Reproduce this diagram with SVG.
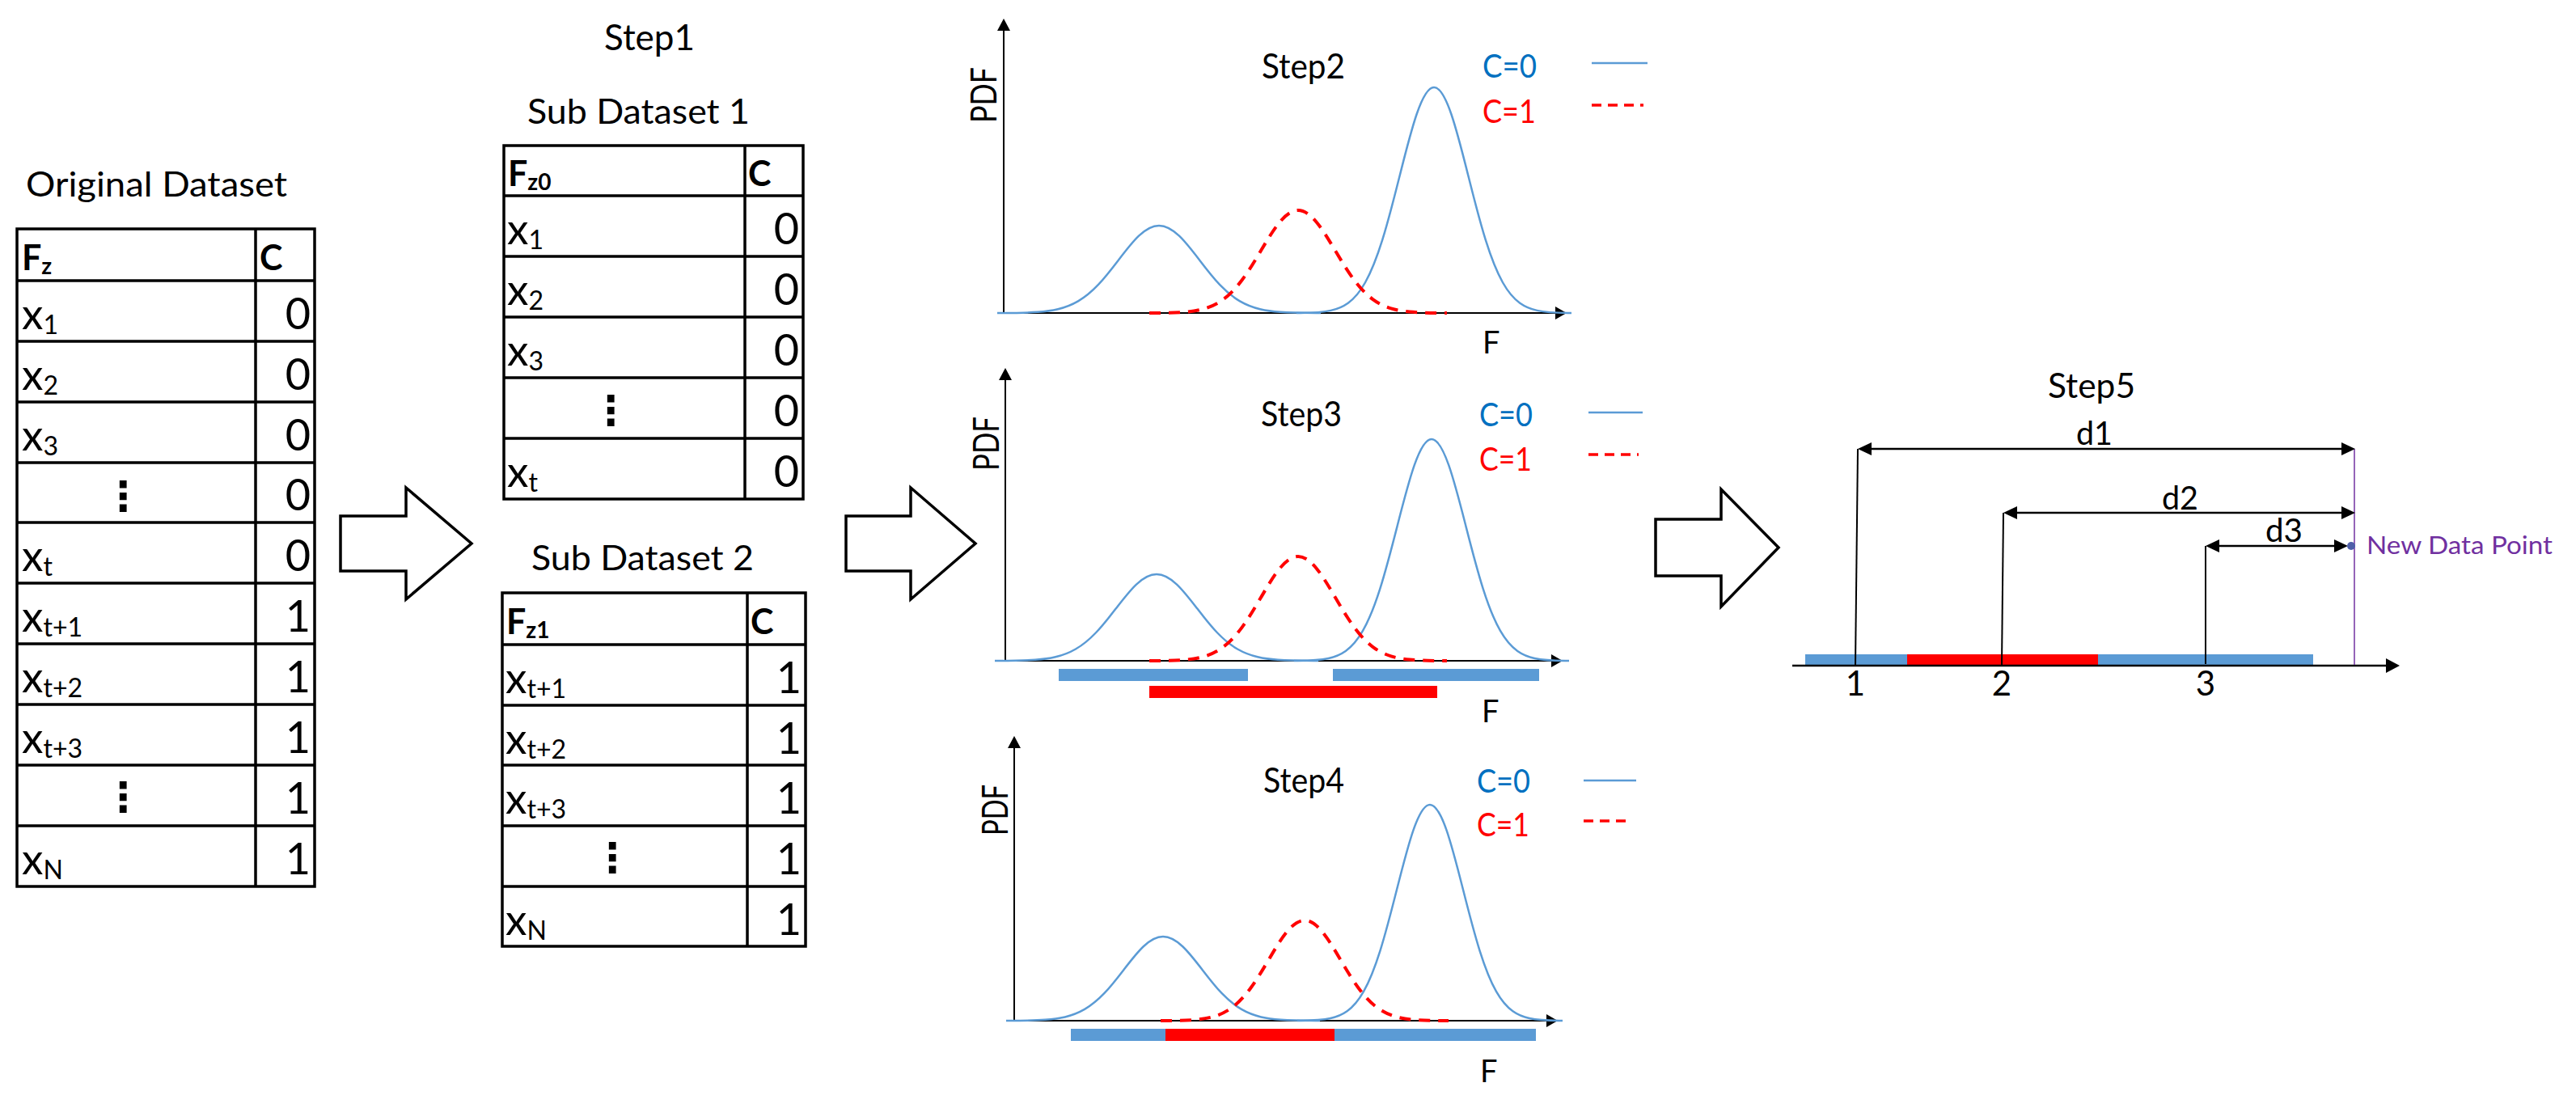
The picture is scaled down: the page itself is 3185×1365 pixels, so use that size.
<svg xmlns="http://www.w3.org/2000/svg" xmlns:xlink="http://www.w3.org/1999/xlink" width="3185" height="1365" viewBox="0 0 3185 1365">
<style>
.t{font-family:Lato,"Open Sans","Liberation Sans",sans-serif;fill:#000}
.b{font-weight:bold}
.grid{stroke:#000;stroke-width:3.5;fill:none}
.gl{stroke:#000;stroke-width:3.5}
.row{font-size:53px}
.sub{font-size:32px}
.val{font-size:54px;text-anchor:end}
.hd{font-size:43px;font-weight:bold}
.hs{font-size:28px}
.dots{font-family:"DejaVu Sans",sans-serif;font-weight:bold;font-size:50px;text-anchor:middle}
.title{font-size:43px}
.blue{stroke:#5B9BD5;stroke-width:2.5;fill:none}
.red{stroke:#FF0000;stroke-width:4;fill:none;stroke-dasharray:14 10}
.lgr{stroke:#FF0000;stroke-width:3.5;fill:none;stroke-dasharray:12 8}
.axis{stroke:#000;stroke-width:2;fill:none}
.c0{fill:#0070C0;font-size:40px}
.c1{fill:#FF0000;font-size:40px}
.lab{font-size:42px}
.blk{fill:#fff;stroke:#000;stroke-width:3.5;stroke-linejoin:miter}
.dim{stroke:#000;stroke-width:2.5;fill:none}
.bbar{fill:#5B9BD5}
.rbar{fill:#FF0000}
</style>
<defs>
<path id="bell" vector-effect="non-scaling-stroke" d="M-4,0 C-3.6667,-0.0007 -3.3333,0 -3,-0.0111 C-2.8333,-0.0167 -2.6667,-0.0256 -2.5,-0.0439 C-2.3333,-0.0622 -2.1667,-0.0902 -2,-0.1353 C-1.8333,-0.1804 -1.6667,-0.2435 -1.5,-0.3247 C-1.3333,-0.4059 -1.1667,-0.5054 -1,-0.6065 C-0.8333,-0.7076 -0.6667,-0.809 -0.5,-0.8825 C-0.3333,-0.956 -0.1667,-1 0,-1 C0.1667,-1 0.3333,-0.956 0.5,-0.8825 C0.6667,-0.809 0.8333,-0.7076 1,-0.6065 C1.1667,-0.5054 1.3333,-0.4059 1.5,-0.3247 C1.6667,-0.2435 1.8333,-0.1804 2,-0.1353 C2.1667,-0.0902 2.3333,-0.0622 2.5,-0.0439 C2.6667,-0.0256 2.8333,-0.0167 3,-0.0111 C3.3333,0 3.6667,-0.0007 4,0"/>
</defs>

<!-- Original Dataset -->
<g id="original-dataset">
<text class="t title" x="32" y="243" textLength="323" lengthAdjust="spacingAndGlyphs">Original Dataset</text>
<rect class="grid" x="21" y="283" width="368" height="813"/>
<line class="gl" x1="316" y1="283" x2="316" y2="1096"/>
<g class="gl">
<line x1="21" y1="347" x2="389" y2="347"/><line x1="21" y1="422" x2="389" y2="422"/><line x1="21" y1="497" x2="389" y2="497"/><line x1="21" y1="572" x2="389" y2="572"/><line x1="21" y1="646" x2="389" y2="646"/><line x1="21" y1="721" x2="389" y2="721"/><line x1="21" y1="796" x2="389" y2="796"/><line x1="21" y1="871" x2="389" y2="871"/><line x1="21" y1="946" x2="389" y2="946"/><line x1="21" y1="1021" x2="389" y2="1021"/>
</g>
<text class="t hd" x="27" y="334">F<tspan class="hs" dy="5">z</tspan></text>
<text class="t hd" x="321" y="334">C</text>
<text class="t row" x="27" y="407">x<tspan class="sub" dy="6">1</tspan></text>
<text class="t row" x="27" y="482">x<tspan class="sub" dy="6">2</tspan></text>
<text class="t row" x="27" y="557">x<tspan class="sub" dy="6">3</tspan></text>
<text class="t dots" x="152" y="631">⋮</text>
<text class="t row" x="27" y="706">x<tspan class="sub" dy="6">t</tspan></text>
<text class="t row" x="27" y="781">x<tspan class="sub" dy="6">t+1</tspan></text>
<text class="t row" x="27" y="856">x<tspan class="sub" dy="6">t+2</tspan></text>
<text class="t row" x="27" y="931">x<tspan class="sub" dy="6">t+3</tspan></text>
<text class="t dots" x="152" y="1003">⋮</text>
<text class="t row" x="27" y="1081">x<tspan class="sub" dy="6">N</tspan></text>
<text class="t val" x="384" y="407">0</text>
<text class="t val" x="384" y="482">0</text>
<text class="t val" x="384" y="557">0</text>
<text class="t val" x="384" y="631">0</text>
<text class="t val" x="384" y="706">0</text>
<text class="t val" x="384" y="781">1</text>
<text class="t val" x="384" y="856">1</text>
<text class="t val" x="384" y="931">1</text>
<text class="t val" x="384" y="1006">1</text>
<text class="t val" x="384" y="1081">1</text>
</g>

<!-- Step1 -->
<g id="step1-label">
<text class="t" x="747" y="62" font-size="44" textLength="112" lengthAdjust="spacingAndGlyphs">Step1</text>
</g>

<g id="sub-dataset-1">
<text class="t title" x="652" y="153" textLength="275" lengthAdjust="spacingAndGlyphs">Sub Dataset 1</text>
<rect class="grid" x="623" y="180" width="370" height="437"/>
<line class="gl" x1="921" y1="180" x2="921" y2="617"/>
<g class="gl">
<line x1="623" y1="242" x2="993" y2="242"/><line x1="623" y1="317" x2="993" y2="317"/><line x1="623" y1="392" x2="993" y2="392"/><line x1="623" y1="467" x2="993" y2="467"/><line x1="623" y1="542" x2="993" y2="542"/>
</g>
<text class="t hd" x="628" y="230">F<tspan class="hs" dy="5">z0</tspan></text>
<text class="t hd" x="925" y="230">C</text>
<text class="t row" x="627" y="302">x<tspan class="sub" dy="6">1</tspan></text>
<text class="t row" x="627" y="377">x<tspan class="sub" dy="6">2</tspan></text>
<text class="t row" x="627" y="452">x<tspan class="sub" dy="6">3</tspan></text>
<text class="t dots" x="755" y="525">⋮</text>
<text class="t row" x="627" y="602">x<tspan class="sub" dy="6">t</tspan></text>
<text class="t val" x="988" y="302">0</text>
<text class="t val" x="988" y="377">0</text>
<text class="t val" x="988" y="452">0</text>
<text class="t val" x="988" y="527">0</text>
<text class="t val" x="988" y="602">0</text>
</g>

<g id="sub-dataset-2">
<text class="t title" x="657" y="705" textLength="275" lengthAdjust="spacingAndGlyphs">Sub Dataset 2</text>
<rect class="grid" x="621" y="733" width="375" height="437"/>
<line class="gl" x1="924" y1="733" x2="924" y2="1170"/>
<g class="gl">
<line x1="621" y1="797" x2="996" y2="797"/><line x1="621" y1="872" x2="996" y2="872"/><line x1="621" y1="946" x2="996" y2="946"/><line x1="621" y1="1021" x2="996" y2="1021"/><line x1="621" y1="1096" x2="996" y2="1096"/>
</g>
<text class="t hd" x="626" y="784">F<tspan class="hs" dy="5">z1</tspan></text>
<text class="t hd" x="928" y="784">C</text>
<text class="t row" x="625" y="857">x<tspan class="sub" dy="6">t+1</tspan></text>
<text class="t row" x="625" y="932">x<tspan class="sub" dy="6">t+2</tspan></text>
<text class="t row" x="625" y="1006">x<tspan class="sub" dy="6">t+3</tspan></text>
<text class="t dots" x="757" y="1078">⋮</text>
<text class="t row" x="625" y="1156">x<tspan class="sub" dy="6">N</tspan></text>
<text class="t val" x="991" y="857">1</text>
<text class="t val" x="991" y="932">1</text>
<text class="t val" x="991" y="1006">1</text>
<text class="t val" x="991" y="1081">1</text>
<text class="t val" x="991" y="1156">1</text>
</g>

<!-- Step2 plot -->
<g id="step2">
<line class="axis" x1="1241" y1="387" x2="1241" y2="36"/>
<polygon points="1241,23 1233,38 1249,38" fill="#000"/>
<line class="axis" x1="1240" y1="387" x2="1925" y2="387"/>
<polygon points="1937,387 1923,379 1923,395" fill="#000"/>
<text class="t" transform="translate(1232,152) rotate(-90)" font-size="44" textLength="69" lengthAdjust="spacingAndGlyphs">PDF</text>
<text class="t lab" x="1560" y="97" textLength="103" lengthAdjust="spacingAndGlyphs">Step2</text>
<text class="t c0" x="1833" y="96" textLength="67" lengthAdjust="spacingAndGlyphs">C=0</text>
<text class="t c1" x="1833" y="152" textLength="66" lengthAdjust="spacingAndGlyphs">C=1</text>
<line class="blue" x1="1968" y1="78" x2="2037" y2="78"/>
<line class="lgr" x1="1968" y1="130" x2="2032" y2="130"/>
<use xlink:href="#bell" class="blue" transform="translate(1433,387) scale(50,108)"/>
<use xlink:href="#bell" class="blue" transform="translate(1773,387) scale(42.5,279)"/>
<use xlink:href="#bell" class="red" transform="translate(1605,387) scale(46,127)"/>
<text class="t" x="1833" y="437" font-size="38">F</text>
</g>

<!-- Step3 plot -->
<g id="step3">
<line class="axis" x1="1243" y1="817" x2="1243" y2="468"/>
<polygon points="1243,455 1235,470 1251,470" fill="#000"/>
<line class="axis" x1="1242" y1="817" x2="1920" y2="817"/>
<polygon points="1932,817 1918,809 1918,825" fill="#000"/>
<text class="t" transform="translate(1235,582) rotate(-90)" font-size="44" textLength="67" lengthAdjust="spacingAndGlyphs">PDF</text>
<text class="t lab" x="1559" y="527" textLength="100" lengthAdjust="spacingAndGlyphs">Step3</text>
<text class="t c0" x="1829" y="527" textLength="66" lengthAdjust="spacingAndGlyphs">C=0</text>
<text class="t c1" x="1829" y="582" textLength="65" lengthAdjust="spacingAndGlyphs">C=1</text>
<line class="blue" x1="1964" y1="510" x2="2031" y2="510"/>
<line class="lgr" x1="1964" y1="562" x2="2026" y2="562"/>
<use xlink:href="#bell" class="blue" transform="translate(1430,817) scale(50,107)"/>
<use xlink:href="#bell" class="blue" transform="translate(1770,817) scale(42.5,274)"/>
<use xlink:href="#bell" class="red" transform="translate(1605,817) scale(46,129)"/>
<rect class="bbar" x="1309" y="827" width="234" height="15"/>
<rect class="bbar" x="1648" y="827" width="255" height="15"/>
<rect class="rbar" x="1421" y="848" width="356" height="15"/>
<text class="t" x="1832" y="893" font-size="38">F</text>
</g>

<!-- Step4 plot -->
<g id="step4">
<line class="axis" x1="1254" y1="1262" x2="1254" y2="923"/>
<polygon points="1254,910 1246,925 1262,925" fill="#000"/>
<line class="axis" x1="1253" y1="1262" x2="1914" y2="1262"/>
<polygon points="1926,1262 1912,1254 1912,1270" fill="#000"/>
<text class="t" transform="translate(1246,1033) rotate(-90)" font-size="44" textLength="63" lengthAdjust="spacingAndGlyphs">PDF</text>
<text class="t lab" x="1562" y="980" textLength="100" lengthAdjust="spacingAndGlyphs">Step4</text>
<text class="t c0" x="1826" y="980" textLength="66" lengthAdjust="spacingAndGlyphs">C=0</text>
<text class="t c1" x="1826" y="1034" textLength="65" lengthAdjust="spacingAndGlyphs">C=1</text>
<line class="blue" x1="1958" y1="965" x2="2023" y2="965"/>
<line class="lgr" x1="1958" y1="1015" x2="2016" y2="1015"/>
<use xlink:href="#bell" class="blue" transform="translate(1438,1262) scale(48.5,104)"/>
<use xlink:href="#bell" class="blue" transform="translate(1768,1262) scale(41,267)"/>
<use xlink:href="#bell" class="red" transform="translate(1613,1262) scale(44.5,124)"/>
<rect class="bbar" x="1324" y="1272" width="117" height="15"/>
<rect class="rbar" x="1441" y="1272" width="209" height="15"/>
<rect class="bbar" x="1650" y="1272" width="249" height="15"/>
<text class="t" x="1830" y="1338" font-size="38">F</text>
</g>

<!-- Step5 -->
<g id="step5">
<text class="t lab" x="2532" y="492" textLength="108" lengthAdjust="spacingAndGlyphs">Step5</text>
<rect class="bbar" x="2232" y="809" width="126" height="15"/>
<rect class="rbar" x="2358" y="809" width="236" height="15"/>
<rect class="bbar" x="2594" y="809" width="266" height="15"/>
<line class="dim" x1="2216" y1="823" x2="2952" y2="823"/>
<polygon points="2967,823 2950,814 2950,832" fill="#000"/>
<line class="axis" x1="2297" y1="555" x2="2294" y2="823"/>
<line class="axis" x1="2477" y1="634" x2="2475" y2="823"/>
<line class="axis" x1="2727" y1="675" x2="2727" y2="821"/>
<line x1="2911" y1="555" x2="2911" y2="822" stroke="#7030A0" stroke-width="1.5"/>
<line class="dim" x1="2310" y1="555" x2="2899" y2="555"/>
<polygon points="2297,555 2314,547 2314,563" fill="#000"/>
<polygon points="2912,555 2895,547 2895,563" fill="#000"/>
<line class="dim" x1="2490" y1="634" x2="2899" y2="634"/>
<polygon points="2477,634 2494,626 2494,642" fill="#000"/>
<polygon points="2912,634 2895,626 2895,642" fill="#000"/>
<line class="dim" x1="2740" y1="675" x2="2890" y2="675"/>
<polygon points="2727,675 2744,667 2744,683" fill="#000"/>
<polygon points="2903,675 2886,667 2886,683" fill="#000"/>
<circle cx="2907" cy="675" r="5" fill="#4F5FA8"/>
<text class="t" x="2567" y="550" font-size="40" textLength="45" lengthAdjust="spacingAndGlyphs">d1</text>
<text class="t" x="2673" y="630" font-size="40" textLength="45" lengthAdjust="spacingAndGlyphs">d2</text>
<text class="t" x="2801" y="670" font-size="40" textLength="46" lengthAdjust="spacingAndGlyphs">d3</text>
<text class="t" x="2926" y="685" font-size="31" fill="#7030A0" style="fill:#7030A0" textLength="230" lengthAdjust="spacingAndGlyphs">New Data Point</text>
<text class="t lab" x="2294" y="860" text-anchor="middle">1</text>
<text class="t lab" x="2475" y="860" text-anchor="middle">2</text>
<text class="t lab" x="2727" y="860" text-anchor="middle">3</text>
</g>

<!-- block arrows -->
<g id="connectors">
<polygon class="blk" points="421,638 502,638 502,603 583,672 502,741 502,706 421,706"/>
<polygon class="blk" points="1046,638 1126,638 1126,603 1206,672 1126,741 1126,706 1046,706"/>
<polygon class="blk" points="2047,642 2128,642 2128,605 2199,677 2128,750 2128,712 2047,712"/>
</g>
</svg>
